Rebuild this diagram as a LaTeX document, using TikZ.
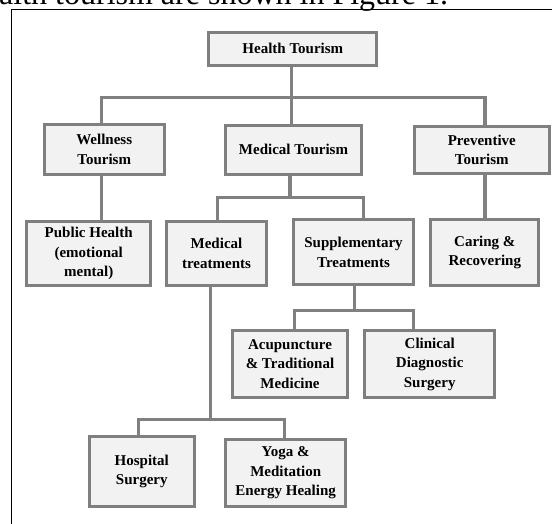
\documentclass[tikz,border=0pt]{standalone}
\usepackage{fontspec}
\setmainfont{Liberation Serif}
\definecolor{boxgray}{HTML}{7F7F7F}
\definecolor{linegray}{HTML}{808080}
\definecolor{boxfill}{HTML}{F2F2F2}
\begin{document}
\begin{tikzpicture}[x=1pt,y=-1pt,
  box/.style={draw=boxgray, line width=3pt, fill=boxfill, inner sep=0pt, outer sep=0pt,
    align=center, font=\fontsize{15}{19.5}\selectfont\bfseries},
  conn/.style={draw=linegray, line width=3.5pt, line join=miter},
  frame/.style={draw=black, line width=1pt}]
\useasboundingbox (0,0) rectangle (552,524);

% cut-off caption line and frame
\node[anchor=base west, inner sep=0pt, font=\fontsize{32}{32}\selectfont] (cap) at (-1,5) {alth tourism are shown in Figure 1.};
\draw[frame] (11,540) -- (11,10) -- (570,10);

% boxes
\node[box, minimum width=168, minimum height=33] (ht) at (292.8,48.7) {Health Tourism};
\node[box, minimum width=120, minimum height=50.3] (wt) at (104.2,149.3) {Wellness\\Tourism};
\node[box, minimum width=135.4, minimum height=48.7] (mt) at (293.5,149.8) {Medical Tourism};
\node[box, minimum width=135.3, minimum height=47] (pt) at (481.8,150) {Preventive\\Tourism};
\node[box, minimum width=124.3, minimum height=64] (ph) at (88.7,253.5) {Public Health\\(emotional\\mental)};
\node[box, minimum width=100.6, minimum height=64] (mtr) at (216.5,253.5) {Medical\\treatments};
\node[box, minimum width=120, minimum height=64.7] (st) at (353.5,252.2) {Supplementary\\Treatments};
\node[box, minimum width=108, minimum height=65.7] (cr) at (484.8,252.7) {Caring \&\\Recovering};
\node[box, minimum width=115.6, minimum height=67.6] (ac) at (290,364) {Acupuncture\\\& Traditional\\Medicine};
\node[box, minimum width=129.7, minimum height=67.6] (cd) at (429.7,364) {Clinical\\Diagnostic\\Surgery};
\node[box, minimum width=105.3, minimum height=69.4] (hs) at (141.8,471.5) {Hospital\\Surgery};
\node[box, minimum width=119.7, minimum height=67] (yg) at (285.7,472.7) {Yoga \&\\Meditation\\Energy Healing};

% junction coordinates
\coordinate (a0) at (291.7,97.3);
\coordinate (aL) at (101.7,97.3);
\coordinate (aR) at (485,97.3);
\coordinate (b0) at (290,197.3);
\coordinate (bL) at (217.3,197.3);
\coordinate (bR) at (363.3,197.3);
\coordinate (c0) at (354.3,310.3);
\coordinate (cL) at (294.3,310.3);
\coordinate (cR) at (413.7,310.3);
\coordinate (d0) at (210.7,419.3);
\coordinate (dL) at (138.3,419.3);
\coordinate (dR) at (284.3,419.3);

% connectors
\draw[conn] (a0 |- ht.south) -- (a0 |- mt.north);
\draw[conn] (aL |- wt.north) -- (aL) -- (aR) -- (aR |- pt.north);
\draw[conn] (aL |- wt.south) -- (aL |- ph.north);
\draw[conn] (aR |- pt.south) -- (aR |- cr.north);
\draw[conn] (b0 |- mt.south) -- (b0);
\draw[conn] (bL |- mtr.north) -- (bL) -- (bR) -- (bR |- st.north);
\draw[conn] (c0 |- st.south) -- (c0);
\draw[conn] (cL |- ac.north) -- (cL) -- (cR) -- (cR |- cd.north);
\draw[conn] (d0 |- mtr.south) -- (d0);
\draw[conn] (dL |- hs.north) -- (dL) -- (dR) -- (dR |- yg.north);
\end{tikzpicture}
\end{document}
